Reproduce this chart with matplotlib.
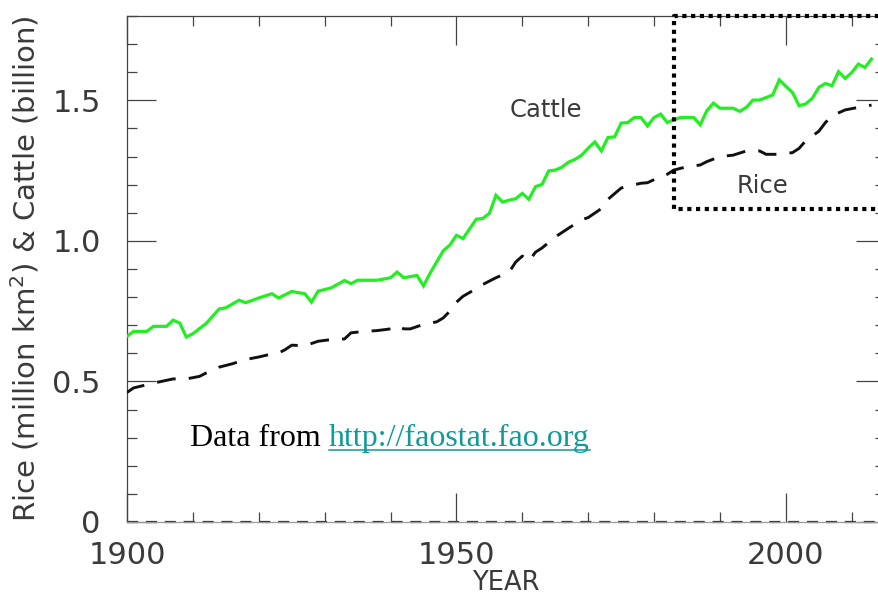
import matplotlib
matplotlib.use("Agg")
import matplotlib.pyplot as plt
from matplotlib.ticker import MultipleLocator

# Cattle numbers (billion head)
cattle_years = [1900, 1901, 1903, 1904, 1906, 1907, 1908, 1909, 1910, 1912,
                1914, 1915, 1917, 1918, 1920, 1922, 1923, 1925, 1927, 1928,
                1929, 1931, 1933, 1934, 1935, 1938, 1940, 1941, 1942, 1944,
                1945, 1946, 1947, 1948, 1949, 1950, 1951, 1952, 1953, 1954,
                1955, 1956, 1957, 1958, 1959, 1960, 1961, 1962, 1963, 1964,
                1965, 1966, 1967, 1968, 1969, 1970, 1971, 1972, 1973, 1974,
                1975, 1976, 1977, 1978, 1979, 1980, 1981, 1982, 1983, 1984,
                1985, 1986, 1987, 1988, 1989, 1990, 1991, 1992, 1993, 1994,
                1995, 1996, 1997, 1998, 1999, 2000, 2001, 2002, 2003, 2004,
                2005, 2006, 2007, 2008, 2009, 2010, 2011, 2012, 2013]
cattle_values = [0.661, 0.678, 0.678, 0.696, 0.696, 0.718, 0.708, 0.658, 0.670, 0.706,
                 0.758, 0.762, 0.789, 0.780, 0.797, 0.812, 0.797, 0.820, 0.812, 0.782,
                 0.821, 0.833, 0.859, 0.848, 0.860, 0.860, 0.869, 0.889, 0.869, 0.877,
                 0.840, 0.885, 0.925, 0.965, 0.985, 1.020, 1.008, 1.043, 1.077, 1.080,
                 1.098, 1.162, 1.138, 1.145, 1.150, 1.169, 1.148, 1.193, 1.201, 1.249,
                 1.252, 1.262, 1.280, 1.290, 1.305, 1.330, 1.352, 1.320, 1.368, 1.370,
                 1.419, 1.421, 1.439, 1.439, 1.409, 1.439, 1.451, 1.421, 1.431, 1.439,
                 1.439, 1.439, 1.413, 1.463, 1.490, 1.472, 1.472, 1.472, 1.461, 1.475,
                 1.501, 1.501, 1.510, 1.519, 1.573, 1.550, 1.528, 1.481, 1.487, 1.507,
                 1.546, 1.560, 1.552, 1.602, 1.578, 1.599, 1.629, 1.617, 1.647]

# Rice harvested area (million km^2)
rice_years = [1900, 1901, 1904, 1907, 1909, 1911, 1912, 1914, 1916, 1918,
              1920, 1922, 1923, 1924, 1925, 1927, 1929, 1931, 1933, 1934,
              1936, 1938, 1940, 1941, 1942, 1943, 1945, 1947, 1948, 1949,
              1950, 1951, 1953, 1954, 1956, 1958, 1959, 1960, 1961, 1962,
              1963, 1965, 1967, 1969, 1970, 1972, 1973, 1975, 1976, 1978,
              1979, 1981, 1982, 1983, 1985, 1987, 1988, 1990, 1992, 1994,
              1996, 1997, 1999, 2001, 2002, 2003, 2005, 2006, 2007, 2009,
              2011, 2013]
rice_values = [0.461, 0.477, 0.494, 0.509, 0.509, 0.518, 0.530, 0.551, 0.563, 0.578,
               0.587, 0.598, 0.601, 0.613, 0.629, 0.627, 0.643, 0.649, 0.651, 0.673,
               0.678, 0.681, 0.687, 0.699, 0.687, 0.687, 0.703, 0.712, 0.726, 0.750,
               0.782, 0.803, 0.830, 0.845, 0.869, 0.889, 0.925, 0.946, 0.928, 0.960,
               0.975, 1.014, 1.045, 1.075, 1.083, 1.115, 1.148, 1.188, 1.195, 1.205,
               1.207, 1.229, 1.237, 1.252, 1.264, 1.270, 1.282, 1.300, 1.305, 1.320,
               1.320, 1.308, 1.308, 1.314, 1.329, 1.356, 1.390, 1.421, 1.445, 1.466,
               1.475, 1.483]

# Highlighted recent period
box_x0, box_y0, box_y1 = 1983, 1.112, 1.80

axis_grey = "#444444"
text_grey = "#3a3a3a"
sans = "DejaVu Sans"
serif = "Liberation Serif"

fig = plt.figure(figsize=(8.79, 6.02), dpi=100)
ax = fig.add_axes([0.1445, 0.1329, 0.862, 0.8405])
ax.set_xlim(1900, 2015)
ax.set_ylim(0, 1.8)

ax.plot(cattle_years, cattle_values, color="#22ee22", lw=2.3,
        solid_joinstyle="miter", zorder=3)
ax.plot(rice_years, rice_values, color="#111111", lw=2.1,
        dashes=(6.5, 4.5), zorder=3)

# dotted frame around the recent period
ax.plot([2015, box_x0, box_x0, 2015], [box_y1, box_y1, box_y0, box_y0],
        color="black", lw=3.0, linestyle=(0, (1, 1.1)), clip_on=False, zorder=4)

# axes frame and ticks
for side in ["left", "right", "top", "bottom"]:
    ax.spines[side].set_color(axis_grey)
    ax.spines[side].set_linewidth(0.9)
ax.spines["bottom"].set_color("#9a9a9a")
ax.axhline(0, color="#333333", lw=1.6, dashes=(5, 3.5), clip_on=False, zorder=2)

ax.xaxis.set_major_locator(MultipleLocator(50))
ax.xaxis.set_minor_locator(MultipleLocator(10))
ax.yaxis.set_major_locator(MultipleLocator(0.5))
ax.yaxis.set_minor_locator(MultipleLocator(0.1))
ax.tick_params(which="both", direction="in", top=True, right=True,
               color=axis_grey, width=0.9)
ax.tick_params(which="major", length=21)
ax.tick_params(which="minor", length=7)
ax.tick_params(axis="x", which="major", pad=14, labelsize=22, labelcolor=text_grey)
ax.tick_params(axis="y", which="major", pad=19, labelsize=22, labelcolor=text_grey)

ax.set_xticks([1900, 1950, 2000])
ax.set_xticklabels(["1900", "1950", "2000"])
ax.set_yticks([0, 0.5, 1.0, 1.5])
ax.set_yticklabels(["0", "0.5", "1.0", "1.5"])

ax.set_xlabel("YEAR", fontsize=18.5, color=text_grey, labelpad=0)
ax.set_ylabel("Rice (million km$^2$) & Cattle (billion)", fontsize=21,
              color=text_grey, labelpad=8)

ax.text(1963.5, 1.465, "Cattle", fontsize=17.5, color=text_grey,
        family=sans, ha="center", va="center")
ax.text(1996.5, 1.195, "Rice", fontsize=17.5, color=text_grey,
        family=sans, ha="center", va="center")

# source note with an underlined link
src_y = 0.271
src = ax.text(1909.6, src_y, "Data from ", fontsize=23, color="black",
              family=serif, ha="left", va="baseline")
fig.canvas.draw()
bb = src.get_window_extent()
x_url = ax.transData.inverted().transform((bb.x1, 0))[0]
url = ax.text(x_url, src_y, "http://faostat.fao.org", fontsize=23,
              color="#129a9a", family=serif, ha="left", va="baseline")
fig.canvas.draw()
ub = url.get_window_extent()
u0 = ax.transData.inverted().transform((ub.x0, ub.y0))[0]
u1 = ax.transData.inverted().transform((ub.x1, ub.y0))[0]
ax.plot([u0, u1], [src_y - 0.016, src_y - 0.016], color="#129a9a", lw=1.1)

fig.savefig("out.png", dpi=100)
